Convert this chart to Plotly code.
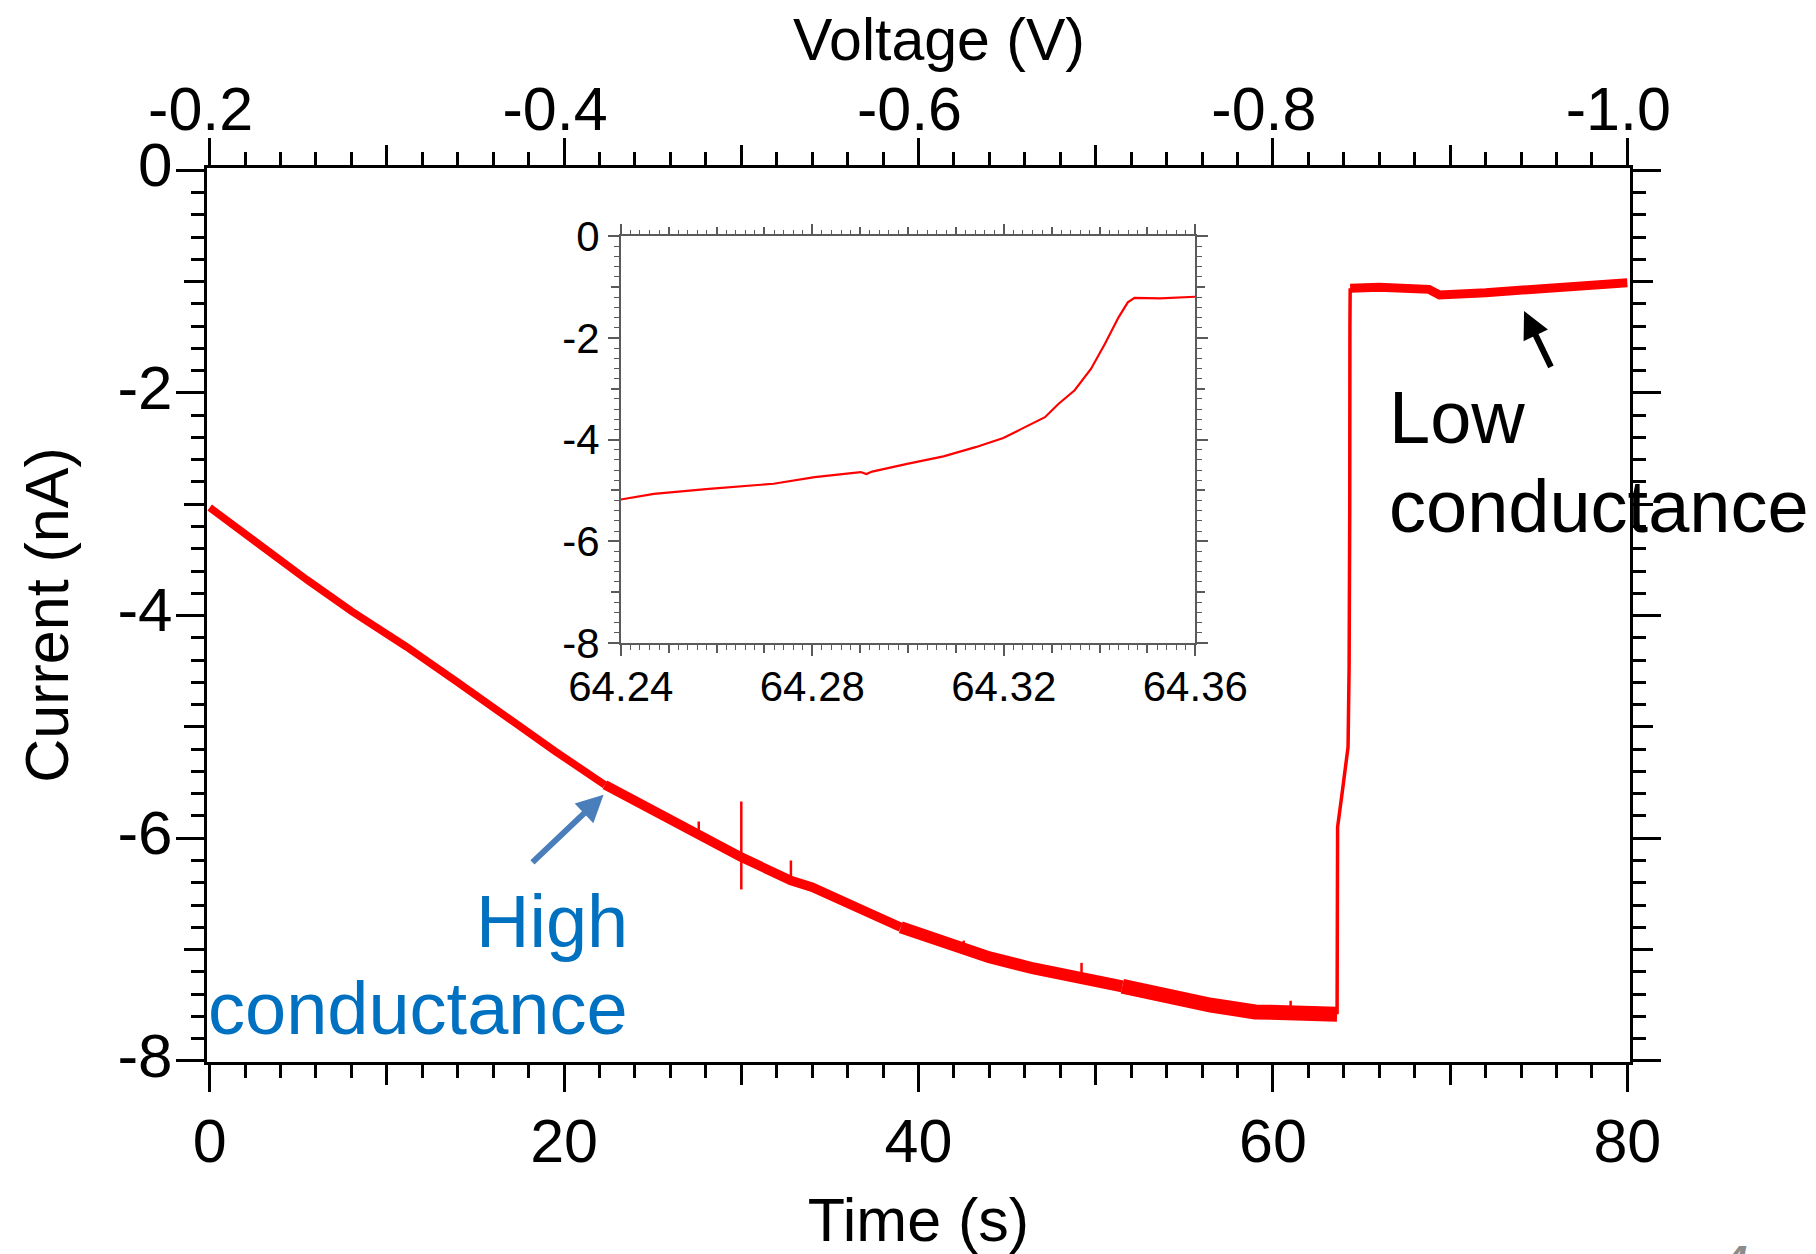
import numpy as np
import plotly.graph_objects as go

# ---------------- data ----------------
time_s = [0, 2.5, 5.5, 8, 11.1, 14, 16.7, 19.5, 22.3, 25, 27.5, 30, 32.8, 34, 36.5, 39,
          42.5, 44, 46.5, 49.2, 51.5, 54, 56.5, 59, 61, 62.5, 63.62, 63.65, 63.9, 64.1,
          64.24, 64.3, 64.32, 64.335, 64.345, 64.36, 66, 68.8, 69.4, 72, 75, 78, 80]
current_nA = [-3.03, -3.33, -3.68, -3.96, -4.28, -4.60, -4.91, -5.22, -5.52, -5.75, -5.95,
              -6.17, -6.38, -6.44, -6.62, -6.80, -7.00, -7.07, -7.17, -7.26, -7.33, -7.42,
              -7.50, -7.56, -7.56, -7.58, -7.58, -5.90, -5.60, -5.38, -5.18, -4.45, -3.97,
              -3.03, -1.40, -1.06, -1.05, -1.07, -1.12, -1.10, -1.07, -1.04, -1.01]

# short spikes on the trace: time, top and bottom of each spike
spike_time = [27.6, 30.0, 32.8, 42.55, 49.2, 61.0]
spike_top = [-5.85, -5.67, -6.20, -6.92, -7.12, -7.46]
spike_bottom = [-5.97, -6.46, -6.38, -7.00, -7.26, -7.56]

# inset: zoom on the switching event
inset_time = [64.240, 64.2469, 64.2584, 64.2719, 64.2805, 64.2901, 64.2913, 64.2925, 64.2998,
              64.3074, 64.3141, 64.3199, 64.3237, 64.3286, 64.3314, 64.3348, 64.3382, 64.3411,
              64.3440, 64.3459, 64.3473, 64.3526, 64.3600]
inset_current = [-5.18, -5.07, -4.97, -4.87, -4.74, -4.64, -4.68, -4.63, -4.48, -4.33, -4.15,
                 -3.97, -3.79, -3.56, -3.30, -3.03, -2.61, -2.12, -1.59, -1.30, -1.21, -1.22,
                 -1.19]

# axis tick labels
time_ticks = [0, 20, 40, 60, 80]
voltage_ticks = [-0.2, -0.4, -0.6, -0.8, -1.0]
voltage_tick_labels = ["-0.2", "-0.4", "-0.6", "-0.8", "-1.0"]
current_ticks = [0, -2, -4, -6, -8]
current_tick_labels = ["0", "-2", "-4", "-6", "-8"]
inset_time_ticks = [64.24, 64.28, 64.32, 64.36]
inset_current_ticks = [0, -2, -4, -6, -8]
inset_current_labels = ["0", "-2", "-4", "-6", "-8"]

# voltage sweep: -0.2 V at t = 0 s to -1.0 V at t = 80 s
sweep_time = [0, 80]
sweep_voltage = [-0.2, -1.0]

# ---------------- styling ----------------
W, H = 1816, 1254
L, R, T, B = 207, 186, 168, 192
X_RANGE = [-0.15, 80.15]
Y_RANGE = [-8.01, 0.02]
FONT = "Liberation Sans, Arial, Helvetica, sans-serif"
RED = "#ff0000"
INSET_AXIS = "#5a5a5a"


def t_to_v(t):
    return sweep_voltage[0] + (sweep_voltage[1] - sweep_voltage[0]) * \
        (t - sweep_time[0]) / (sweep_time[1] - sweep_time[0])


V_RANGE = [t_to_v(X_RANGE[0]), t_to_v(X_RANGE[1])]

fig = go.Figure()

# main trace, drawn thicker where the measured signal gets noisier
t_arr = np.array(time_s)
c_arr = np.array(current_nA)
width_segments = [(0, 22.3, 7.5), (22.3, 39, 9.5), (39, 51.5, 12), (51.5, 63.62, 15),
                  (63.62, 64.36, 3.5), (64.36, 80, 9)]
for t0, t1, w in width_segments:
    m = (t_arr >= t0) & (t_arr <= t1)
    fig.add_trace(go.Scatter(x=t_arr[m], y=c_arr[m], mode="lines",
                             line=dict(color=RED, width=w), showlegend=False,
                             hoverinfo="skip"))

sx, sy = [], []
for t, top, bot in zip(spike_time, spike_top, spike_bottom):
    sx += [t, t, None]
    sy += [top, bot, None]
fig.add_trace(go.Scatter(x=sx, y=sy, mode="lines", line=dict(color=RED, width=2.5),
                         showlegend=False, hoverinfo="skip"))

# the same sweep on the voltage axis (invisible, keeps the top axis active)
fig.add_trace(go.Scatter(x=sweep_voltage, y=[current_nA[0], current_nA[-1]], mode="lines",
                         line=dict(width=0), opacity=0, xaxis="x2", yaxis="y",
                         showlegend=False, hoverinfo="skip"))
# invisible helpers so that the extra tick axes are drawn
for xa, ya, xs, ys in [("x3", "y", sweep_time, [current_nA[0], current_nA[-1]]),
                       ("x", "y2", sweep_time, [current_nA[0], current_nA[-1]]),
                       ("x5", "y3", [inset_time[0], inset_time[-1]],
                        [inset_current[0], inset_current[-1]]),
                       ("x4", "y4", [inset_time[0], inset_time[-1]],
                        [inset_current[0], inset_current[-1]])]:
    fig.add_trace(go.Scatter(x=xs, y=ys, mode="lines", line=dict(width=0), opacity=0,
                             xaxis=xa, yaxis=ya, showlegend=False, hoverinfo="skip"))

# inset trace
fig.add_trace(go.Scatter(x=inset_time, y=inset_current, mode="lines",
                         line=dict(color=RED, width=2.2), xaxis="x4", yaxis="y3",
                         showlegend=False, hoverinfo="skip"))

main_tick = dict(ticks="outside", tickcolor="black", tickwidth=2.5, showgrid=False,
                 zeroline=False, showline=True, linecolor="black", linewidth=3,
                 automargin=False)
inset_tick = dict(ticks="outside", tickcolor=INSET_AXIS, tickwidth=1.5, showgrid=False,
                  zeroline=False, showline=True, linecolor=INSET_AXIS, linewidth=1.5,
                  automargin=False)

ix0 = (620.8 - L) / (W - L - R)
ix1 = (1195.3 - L) / (W - L - R)
iy0 = (H - B - 642.8) / (H - T - B)
iy1 = (H - B - 236.3) / (H - T - B)

fig.update_layout(
    width=W, height=H,
    margin=dict(l=L, r=R, t=T, b=B, pad=0, autoexpand=False),
    paper_bgcolor="white", plot_bgcolor="white",
    font=dict(family=FONT, color="black"),
    showlegend=False,
    xaxis=dict(**main_tick, domain=[0, 1], range=X_RANGE, anchor="y",
               tickmode="array", tickvals=time_ticks, ticklen=27, mirror="ticks",
               minor=dict(ticks="outside", tickmode="linear", tick0=0, dtick=2, ticklen=13,
                          tickwidth=2.5, tickcolor="black", showgrid=False),
               tickfont=dict(size=61), ticklabelstandoff=-3,
               title=dict(text="Time (s)", font=dict(size=61), standoff=27)),
    xaxis3=dict(**main_tick, overlaying="x", anchor="y", side="bottom", range=X_RANGE,
                tickmode="array", tickvals=[10, 30, 50, 70], ticklen=20, mirror="ticks",
                showticklabels=False),
    xaxis2=dict(**main_tick, overlaying="x", anchor="y", side="top", range=V_RANGE,
                tickmode="array", tickvals=voltage_ticks, ticktext=voltage_tick_labels,
                ticklen=27, tickfont=dict(size=61), ticklabelstandoff=-16,
                ticklabelshift=9),
    yaxis=dict(**main_tick, domain=[0, 1], range=Y_RANGE, anchor="x",
               tickmode="array", tickvals=current_ticks, ticktext=current_tick_labels,
               ticklen=28, mirror="ticks",
               minor=dict(ticks="outside", tickmode="linear", tick0=0, dtick=0.2, ticklen=13,
                          tickwidth=2.5, tickcolor="black", showgrid=False),
               tickfont=dict(size=62), ticklabelstandoff=-9, ticklabelshift=-6,
               title=dict(text="Current (nA)", font=dict(size=61), standoff=30)),
    yaxis2=dict(**main_tick, overlaying="y", anchor="x", side="left", range=Y_RANGE,
                tickmode="array", tickvals=[-1, -3, -5, -7], ticklen=20, mirror="ticks",
                showticklabels=False),
    xaxis4=dict(**inset_tick, domain=[ix0, ix1], range=[64.24, 64.36], anchor="y3",
                tickmode="array", tickvals=inset_time_ticks, ticklen=11, mirror="ticks",
                tickformat=".2f", ticklabelstandoff=-5,
                minor=dict(ticks="outside", tickmode="linear", tick0=64.24, dtick=0.002,
                           ticklen=5, tickwidth=1.2, tickcolor=INSET_AXIS, showgrid=False),
                tickfont=dict(size=42, color="black")),
    xaxis5=dict(**inset_tick, overlaying="x4", anchor="y3", side="bottom",
                range=[64.24, 64.36], tickmode="array",
                tickvals=[64.25, 64.26, 64.27, 64.29, 64.30, 64.31, 64.33, 64.34, 64.35],
                ticklen=8, mirror="ticks", showticklabels=False),
    yaxis3=dict(**inset_tick, domain=[iy0, iy1], range=[-8, 0], anchor="x4",
                tickmode="array", tickvals=inset_current_ticks, ticktext=inset_current_labels,
                ticklen=11, mirror="ticks",
                minor=dict(ticks="outside", tickmode="linear", tick0=0, dtick=0.2,
                           ticklen=5, tickwidth=1.2, tickcolor=INSET_AXIS, showgrid=False),
                tickfont=dict(size=42, color="black")),
    yaxis4=dict(**inset_tick, overlaying="y3", anchor="x4", side="left", range=[-8, 0],
                tickmode="array", tickvals=[-1, -3, -5, -7], ticklen=8, mirror="ticks",
                showticklabels=False),
)

# title of the top (voltage) axis
fig.add_annotation(xref="paper", yref="paper", x=(939 - L) / (W - L - R),
                   y=(H - B - 40) / (H - T - B), text="Voltage (V)", showarrow=False,
                   xanchor="center", yanchor="middle", font=dict(size=59, color="black"))

# text labels and arrows
fig.add_annotation(x=23.72, y=-6.75, text="High", showarrow=False, xanchor="right",
                   yanchor="middle", font=dict(size=74, color="#0070C0"))
fig.add_annotation(x=23.72, y=-7.53, text="conductance", showarrow=False, xanchor="right",
                   yanchor="middle", font=dict(size=74, color="#0070C0"))
fig.add_annotation(x=66.45, y=-2.22, text="Low", showarrow=False, xanchor="left",
                   yanchor="middle", font=dict(size=74, color="black"))
fig.add_annotation(x=66.45, y=-3.02, text="conductance", showarrow=False, xanchor="left",
                   yanchor="middle", font=dict(size=74, color="black"))
fig.add_annotation(x=22.23, y=-5.61, ax=18.13, ay=-6.23, axref="x", ayref="y", text="",
                   showarrow=True, arrowhead=2, arrowsize=0.9, arrowwidth=6,
                   arrowcolor="#4A7EBB", standoff=0)
fig.add_annotation(x=74.17, y=-1.265, ax=75.73, ay=-1.78, axref="x", ayref="y", text="",
                   showarrow=True, arrowhead=2, arrowsize=0.9, arrowwidth=6,
                   arrowcolor="black", standoff=0)
# slide page number, cut off by the bottom edge as in the reference
fig.add_annotation(xref="paper", yref="paper", x=(1735 - L) / (W - L - R),
                   y=(H - B - 1236) / (H - T - B), text="4", showarrow=False,
                   xanchor="center", yanchor="top",
                   font=dict(size=40, color="#8c8c8c", style="italic", weight="bold"))

fig.write_html("out.html")
